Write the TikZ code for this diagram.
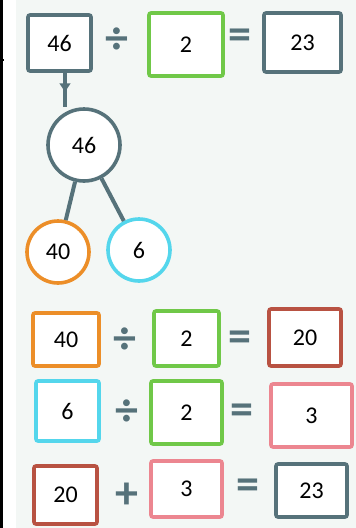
\documentclass[tikz,border=0pt]{standalone}
\usepackage{fontspec}
\setmainfont{Carlito}
\usepackage{tikz}
\usetikzlibrary{shapes.geometric, arrows.meta, positioning, decorations.markings}
\definecolor{slate}{RGB}{86,114,122}
\definecolor{mgreen}{RGB}{112,200,72}
\definecolor{morange}{RGB}{236,142,40}
\definecolor{mcyan}{RGB}{84,214,236}
\definecolor{mbrown}{RGB}{184,82,66}
\definecolor{mpink}{RGB}{236,134,144}
\definecolor{paper}{RGB}{243,247,245}
\tikzset{
    numbox/.style={
        rectangle, rounded corners=2pt, line width=3.6pt, fill=white,
        align=center, inner sep=0pt, font=\fontsize{24}{26}\selectfont
    },
    numcircle/.style={
        circle, line width=3.6pt, fill=white,
        align=center, inner sep=0pt, font=\fontsize{24}{26}\selectfont
    },
    opsign/.style={
        text=slate, inner sep=0pt, font=\fontsize{46}{46}\selectfont\bfseries
    },
    branch/.style={
        line width=4pt, draw=slate
    },
    arrow_mid/.style={
        line width=4pt, draw=slate,
        postaction={decorate},
        decoration={markings, mark=at position 0.6 with {\arrow{Latex[length=10pt, width=12pt]}}}
    }
}
\begin{document}
\begin{tikzpicture}[x=1pt, y=-1pt]
    \useasboundingbox (0,0) rectangle (356,528);
    \fill[paper] (16,0) rectangle (356,528);
    \fill[black] (0,0) rectangle (2.6,528);
    \fill[black] (0,59) rectangle (4,61);

    % Erste Zeile: 46 : 2 = 23
    \node[numbox, draw=slate, minimum width=63pt, minimum height=56pt] (top46) at (59.5,43) {46};
    \node[opsign] (div1) at (117,41) {÷};
    \node[numbox, draw=mgreen, minimum width=74pt, minimum height=63pt] (top2) at (186,44.5) {2};
    \node[opsign] (eq1) at (240,39) {=};
    \node[numbox, draw=slate, minimum width=77pt, minimum height=59pt] (top23) at (302.5,42.5) {23};

    % Zerlegung
    \node[numcircle, draw=slate, minimum size=72pt] (c46) at (84,145) {46};
    \node[numcircle, draw=morange, minimum size=62pt] (c40) at (58,252) {40};
    \node[numcircle, draw=mcyan, minimum size=62pt] (c6) at (139,250) {6};

    \draw[arrow_mid] (top46.south -| 65,0) -- (c46.north -| 65,0);
    \draw[branch] (c46) -- (c40);
    \draw[branch] (c46) -- (c6);

    % Teilrechnungen
    \node[numbox, draw=morange, minimum width=66pt, minimum height=53pt] (r40) at (66,339.5) {40};
    \node[opsign] (div2) at (125,341) {÷};
    \node[numbox, draw=mgreen, minimum width=65pt, minimum height=55pt] (r2a) at (186.5,338.5) {2};
    \node[opsign] (eq2) at (240,341) {=};
    \node[numbox, draw=mbrown, minimum width=72pt, minimum height=57pt] (r20) at (305,337.5) {20};

    \node[numbox, draw=mcyan, minimum width=63pt, minimum height=60pt] (r6) at (67.5,411) {6};
    \node[opsign] (div3) at (127,413) {÷};
    \node[numbox, draw=mgreen, minimum width=71pt, minimum height=63pt] (r2b) at (186.5,412.5) {2};
    \node[opsign] (eq3) at (242,414) {=};
    \node[numbox, draw=mpink, minimum width=81pt, minimum height=63pt] (r3) at (311.5,415.5) {3};

    \node[numbox, draw=mbrown, minimum width=63pt, minimum height=58pt] (s20) at (65.5,495) {20};
    \node[opsign] (plus) at (127,496) {+};
    \node[numbox, draw=mpink, minimum width=71pt, minimum height=56pt] (s3) at (186.5,489) {3};
    \node[opsign] (eq4) at (248,489) {=};
    \node[numbox, draw=slate, minimum width=71pt, minimum height=53pt] (s23) at (311.5,490.5) {23};
\end{tikzpicture}
\end{document}
